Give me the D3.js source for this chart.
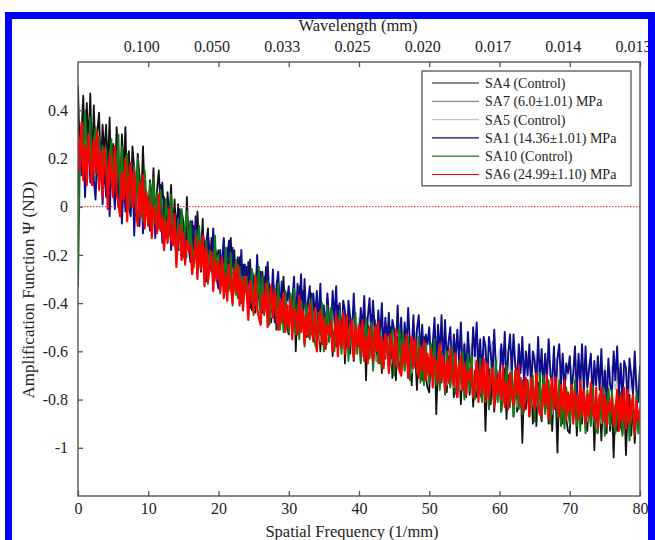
<!DOCTYPE html>
<html><head><meta charset="utf-8">
<script src="https://cdn.jsdelivr.net/npm/d3@7"></script>
<style>
body{margin:0;background:#fff}
svg{display:block}
text{font-family:"Liberation Serif","Times New Roman",serif;fill:#222}
</style>
</head><body>
<svg id="chart" width="655" height="540"></svg>
<script>
// ---- data ----
const freqFine = d3.range(0, 80.125, 0.25);   // 321 samples (1/mm)
const freqCoarse = d3.range(0, 80.25, 0.5);   // 161 samples (1/mm)
const xTicks = [0,10,20,30,40,50,60,70,80];
const xTickLabels = ["0","10","20","30","40","50","60","70","80"];
const topTicks = [10,20,30,40,50,60,70,80];
const topTickLabels = ["0.100","0.050","0.033","0.025","0.020","0.017","0.014","0.013"];
const yTicks = [0.4,0.2,0,-0.2,-0.4,-0.6,-0.8,-1];
const yTickLabels = ["0.4","0.2","0","-0.2","-0.4","-0.6","-0.8","-1"];
const seriesNames = ["SA4 (Control)","SA7 (6.0\u00b11.01) MPa","SA5 (Control)","SA1 (14.36\u00b11.01) MPa","SA10 (Control)","SA6 (24.99\u00b11.10) MPa"];
const seriesColors = ["#111111","#8a8a8a","#c4c4c4","#0c0c8c","#137a13","#ff0000"];

const sa4 = [
.50,.22,.31,.46,.19,.43,.25,.47, .17,.42,.20,.31,.39,.14,.34,.22,
.34,.15,.37,.10,.26,.09,.33,.18, .07,.30,.14,.33,.06,.23,.03,.25,
.16,-.03,.22,.13,.01,.25,.05,-.02, -.05,.11,.01,.16,-.06,.07,.15,-.01,
.10,-.03,-.09,.06,-.06,.09,-.11,.03, -.12,.01,-.18,-.02,-.06,-.15,.04,-.14,
-.06,-.23,-.08,-.19,-.02,-.17,-.20,-.05, -.30,-.15,-.09,-.26,-.13,-.29,-.17,-.21,
-.18,-.32,-.25,-.14,-.35,-.17,-.30,-.13, -.37,-.18,-.35,-.27,-.21,-.40,-.24,-.34,
-.25,-.39,-.22,-.43,-.31,-.44,-.26,-.37, -.44,-.27,-.39,-.25,-.45,-.32,-.48,-.31,
-.36,-.51,-.32,-.39,-.47,-.29,-.45,-.50, -.53,-.37,-.47,-.32,-.60,-.41,-.33,-.49,
-.35,-.48,-.54,-.39,-.51,-.36,-.56,-.42, -.54,-.41,-.60,-.44,-.48,-.57,-.38,-.56,
-.45,-.62,-.47,-.58,-.41,-.56,-.59,-.44, -.65,-.50,-.44,-.61,-.48,-.64,-.52,-.56,
-.50,-.64,-.57,-.46,-.72,-.49,-.62,-.45, -.66,-.47,-.64,-.56,-.50,-.69,-.53,-.63,
-.53,-.67,-.50,-.71,-.59,-.72,-.54,-.65, -.70,-.53,-.65,-.51,-.71,-.58,-.74,-.57,
-.61,-.76,-.57,-.64,-.72,-.54,-.70,-.75, -.77,-.61,-.71,-.56,-.86,-.65,-.57,-.73,
-.58,-.71,-.77,-.62,-.74,-.59,-.79,-.65, -.76,-.63,-.82,-.66,-.70,-.79,-.60,-.78,
-.66,-.83,-.68,-.79,-.62,-.77,-.80,-.65, -.93,-.71,-.65,-.82,-.69,-.85,-.73,-.77,
-.71,-.85,-.78,-.67,-.88,-.70,-.83,-.66, -.87,-.68,-.85,-.77,-.71,-.98,-.74,-.84,
-.72,-.86,-.69,-.90,-.78,-.91,-.73,-.84, -.89,-.72,-.84,-.70,-.90,-.77,-.93,-.76,
-.79,-1.02,-.75,-.82,-.90,-.72,-.88,-.93, -.94,-.78,-.88,-.73,-.95,-.82,-.74,-.90,
-.74,-.87,-.93,-.78,-.90,-.75,-1.01,-.81, -.91,-.78,-.97,-.81,-.85,-.94,-.75,-.93,
-.80,-1.04,-.82,-.93,-.76,-.91,-.94,-.79, -1.03,-.84,-.78,-.95,-.82,-.98,-.86,-.90,
-.87];

const sa7 = [
.30,.20,.28,.18,.25,.16,.23,.13,.20,.11,
.17,.08,.15,.05,.12,.03,.10,.00,.07,-.03,
.04,-.06,.01,-.09,-.02,-.12,-.05,-.15,-.08,-.18,
-.11,-.21,-.14,-.24,-.17,-.26,-.19,-.29,-.22,-.31,
-.24,-.33,-.26,-.35,-.28,-.37,-.30,-.39,-.32,-.41,
-.34,-.43,-.35,-.44,-.37,-.46,-.39,-.47,-.40,-.49,
-.41,-.50,-.43,-.52,-.44,-.53,-.46,-.55,-.47,-.56,
-.48,-.57,-.49,-.58,-.50,-.59,-.51,-.60,-.52,-.61,
-.53,-.62,-.54,-.63,-.55,-.64,-.56,-.65,-.57,-.66,
-.58,-.67,-.59,-.68,-.60,-.69,-.61,-.70,-.62,-.71,
-.63,-.72,-.64,-.73,-.65,-.74,-.66,-.75,-.67,-.76,
-.68,-.77,-.69,-.78,-.70,-.79,-.71,-.80,-.56,-.80,
-.72,-.81,-.73,-.82,-.74,-.83,-.74,-.83,-.75,-.84,
-.75,-.85,-.76,-.85,-.77,-.86,-.77,-.87,-.78,-.87,
-.78,-.88,-.79,-.88,-.79,-.89,-.80,-.89,-.80,-.90,
-.81,-.90,-.81,-.91,-.82,-.91,-.82,-.92,-.83,-.92,
-.83];

const sa5 = [
.24,.14,.22,.12,.20,.10,.18,.08,.16,.06,
.14,.04,.12,.02,.10,.00,.08,-.03,.05,-.05,
.03,-.07,.00,-.10,-.03,-.12,-.05,-.15,-.08,-.17,
-.10,-.20,-.13,-.22,-.15,-.24,-.17,-.26,-.19,-.28,
-.21,-.30,-.23,-.32,-.25,-.34,-.27,-.36,-.29,-.37,
-.30,-.39,-.32,-.40,-.33,-.42,-.35,-.43,-.36,-.44,
-.37,-.46,-.38,-.47,-.39,-.48,-.40,-.49,-.41,-.50,
-.42,-.51,-.43,-.52,-.44,-.53,-.45,-.54,-.46,-.55,
-.46,-.56,-.47,-.56,-.48,-.57,-.49,-.58,-.49,-.58,
-.50,-.59,-.51,-.60,-.51,-.60,-.52,-.61,-.53,-.62,
-.53,-.62,-.54,-.63,-.54,-.63,-.55,-.64,-.56,-.65,
-.56,-.65,-.57,-.66,-.57,-.66,-.58,-.67,-.58,-.67,
-.59,-.68,-.59,-.68,-.60,-.69,-.60,-.69,-.61,-.70,
-.61,-.70,-.62,-.71,-.62,-.71,-.63,-.72,-.63,-.72,
-.64,-.73,-.64,-.73,-.65,-.74,-.65,-.74,-.66,-.75,
-.66,-.75,-.66,-.76,-.67,-.76,-.67,-.77,-.68,-.77,
-.68];

const sa1 = [
.05,.26,.13,.32,.04,.21,.31,.10, .28,.11,.03,.24,.08,.27,.01,.19,
.04,.21,-.04,.16,.12,-.01,.24,.00, .16,-.07,.12,-.02,.20,.01,-.04,.17,
-.12,.07,.15,-.08,.10,-.11,.05,-.01, .04,-.10,-.03,.08,-.13,.05,-.08,.09,
-.15,.04,-.13,-.05,.01,-.18,-.02,-.12, -.04,-.18,-.01,-.22,-.10,-.23,-.05,-.16,
-.23,-.06,-.18,-.04,-.24,-.11,-.27,-.10, -.16,-.31,-.12,-.19,-.27,-.09,-.25,-.30,
-.34,-.18,-.28,-.13,-.35,-.22,-.14,-.30, -.17,-.30,-.36,-.21,-.33,-.18,-.38,-.24,
-.36,-.23,-.42,-.26,-.30,-.39,-.20,-.38, -.27,-.44,-.29,-.40,-.23,-.38,-.41,-.26,
-.48,-.33,-.27,-.44,-.31,-.47,-.35,-.39, -.33,-.47,-.40,-.29,-.50,-.32,-.45,-.28,
-.49,-.30,-.47,-.39,-.33,-.52,-.36,-.46, -.35,-.49,-.32,-.53,-.41,-.54,-.36,-.47,
-.52,-.35,-.47,-.33,-.53,-.40,-.56,-.39, -.43,-.58,-.39,-.46,-.54,-.36,-.52,-.57,
-.58,-.42,-.52,-.37,-.59,-.46,-.38,-.54, -.39,-.52,-.58,-.43,-.55,-.40,-.60,-.46,
-.57,-.44,-.63,-.47,-.51,-.60,-.41,-.59, -.46,-.63,-.48,-.59,-.42,-.57,-.60,-.45,
-.66,-.51,-.45,-.62,-.49,-.65,-.53,-.57, -.50,-.64,-.57,-.46,-.67,-.49,-.62,-.45,
-.66,-.47,-.64,-.56,-.50,-.69,-.53,-.63, -.51,-.65,-.48,-.69,-.57,-.70,-.52,-.63,
-.67,-.50,-.62,-.48,-.68,-.55,-.71,-.54, -.58,-.73,-.54,-.61,-.69,-.51,-.67,-.72,
-.73,-.57,-.67,-.52,-.74,-.61,-.53,-.69, -.53,-.66,-.72,-.57,-.69,-.54,-.74,-.60,
-.70,-.57,-.76,-.60,-.64,-.73,-.54,-.72, -.59,-.76,-.61,-.72,-.55,-.70,-.73,-.58,
-.78,-.63,-.57,-.74,-.61,-.77,-.65,-.69, -.62,-.76,-.69,-.58,-.79,-.61,-.74,-.57,
-.77,-.58,-.75,-.67,-.61,-.80,-.64,-.74, -.62,-.76,-.59,-.80,-.68,-.81,-.63,-.74,
-.77,-.60,-.72,-.58,-.78,-.65,-.81,-.64, -.67,-.82,-.63,-.70,-.78,-.60,-.76,-.81,
-.66];

const sa10 = [
-.33,.16,.33,.20,.40,.23,.19,.37, .09,.26,.33,.14,.29,.11,.25,.19,
.24,.07,.16,.28,.04,.25,.10,.30, .02,.25,.05,.15,.22,-.01,.18,.06,
.17,.00,.20,-.04,.10,-.06,.15,.03, -.06,.10,-.01,.12,-.07,.05,-.09,.07,
-.02,-.15,.03,-.04,-.12,.05,-.09,-.14, -.20,-.05,-.14,-.01,-.21,-.09,-.02,-.17,
-.07,-.19,-.25,-.10,-.21,-.08,-.26,-.14, -.26,-.14,-.32,-.18,-.21,-.30,-.12,-.29,
-.20,-.36,-.23,-.33,-.17,-.30,-.34,-.19, -.41,-.28,-.22,-.38,-.25,-.40,-.29,-.33,
-.29,-.43,-.36,-.26,-.45,-.28,-.41,-.25, -.47,-.29,-.45,-.37,-.31,-.49,-.35,-.43,
-.34,-.47,-.32,-.51,-.40,-.52,-.35,-.45, -.52,-.36,-.47,-.34,-.53,-.41,-.55,-.39,
-.45,-.58,-.40,-.47,-.55,-.38,-.52,-.57, -.59,-.44,-.53,-.40,-.60,-.48,-.41,-.56,
-.42,-.54,-.60,-.45,-.56,-.43,-.61,-.49, -.58,-.46,-.64,-.50,-.53,-.62,-.44,-.61,
-.49,-.65,-.52,-.62,-.46,-.59,-.63,-.48, -.68,-.55,-.49,-.65,-.52,-.67,-.56,-.60,
-.54,-.68,-.61,-.51,-.70,-.53,-.66,-.50, -.70,-.52,-.68,-.60,-.54,-.72,-.58,-.66,
-.56,-.69,-.54,-.73,-.62,-.74,-.57,-.67, -.73,-.57,-.68,-.55,-.74,-.62,-.76,-.60,
-.65,-.78,-.60,-.67,-.75,-.58,-.72,-.77, -.79,-.64,-.73,-.60,-.80,-.68,-.61,-.76,
-.62,-.74,-.80,-.65,-.76,-.63,-.81,-.69, -.78,-.66,-.84,-.70,-.73,-.82,-.64,-.81,
-.69,-.85,-.72,-.82,-.66,-.79,-.83,-.68, -.87,-.74,-.68,-.84,-.71,-.86,-.75,-.79,
-.73,-.87,-.80,-.70,-.89,-.72,-.85,-.69, -.88,-.70,-.86,-.78,-.72,-.90,-.76,-.84,
-.74,-.87,-.72,-.91,-.80,-.92,-.75,-.85, -.90,-.74,-.85,-.72,-.91,-.79,-.93,-.77,
-.81,-.94,-.76,-.83,-.91,-.74,-.88,-.93, -.94,-.79,-.88,-.75,-.95,-.83,-.76,-.91,
-.76,-.88,-.94,-.79,-.90,-.77,-.95,-.83, -.91,-.79,-.97,-.83,-.86,-.95,-.77,-.94,
-.86];

const sa6 = [
.32,.15,.35,.11,.25,.09,.30,.18, .09,.28,.14,.31,.07,.23,.04,.24,
.16,-.01,.22,.13,.04,.25,.06,.01, -.04,.14,.03,.20,-.06,.10,.18,.00,
.15,-.01,-.08,.10,-.04,.13,-.09,.06, -.08,.03,-.13,.00,-.03,-.11,.05,-.10,
-.04,-.18,-.06,-.15,-.01,-.13,-.16,-.03, -.25,-.13,-.08,-.22,-.11,-.24,-.14,-.18,
-.16,-.28,-.22,-.13,-.30,-.15,-.26,-.12, -.33,-.17,-.31,-.24,-.19,-.35,-.22,-.30,
-.23,-.35,-.21,-.38,-.28,-.39,-.24,-.33, -.40,-.26,-.36,-.24,-.41,-.30,-.43,-.29,
-.35,-.47,-.31,-.37,-.44,-.29,-.42,-.46, -.49,-.36,-.44,-.32,-.50,-.39,-.33,-.46,
-.35,-.46,-.51,-.38,-.48,-.36,-.52,-.41, -.50,-.39,-.55,-.42,-.45,-.53,-.37,-.52,
-.43,-.57,-.45,-.54,-.40,-.52,-.55,-.42, -.60,-.48,-.43,-.57,-.46,-.59,-.49,-.53,
-.48,-.60,-.54,-.45,-.62,-.47,-.58,-.44, -.61,-.45,-.59,-.52,-.47,-.63,-.50,-.58,
-.49,-.61,-.47,-.64,-.54,-.65,-.50,-.59, -.64,-.50,-.60,-.48,-.65,-.54,-.67,-.53,
-.57,-.69,-.53,-.59,-.66,-.51,-.64,-.68, -.70,-.57,-.65,-.53,-.71,-.60,-.54,-.67,
-.55,-.66,-.71,-.58,-.68,-.56,-.72,-.61, -.70,-.59,-.75,-.62,-.65,-.73,-.57,-.72,
-.62,-.76,-.64,-.73,-.59,-.71,-.74,-.61, -.79,-.67,-.62,-.76,-.65,-.78,-.68,-.72,
-.67,-.79,-.73,-.64,-.81,-.66,-.77,-.63, -.81,-.65,-.79,-.72,-.67,-.83,-.70,-.78,
-.68,-.80,-.66,-.83,-.73,-.84,-.69,-.78, -.82,-.68,-.78,-.66,-.83,-.72,-.85,-.71,
-.75,-.87,-.71,-.77,-.84,-.69,-.82,-.86, -.87,-.74,-.82,-.70,-.88,-.77,-.71,-.84,
-.71,-.82,-.87,-.74,-.84,-.72,-.88,-.77, -.85,-.74,-.90,-.77,-.80,-.88,-.72,-.87,
-.76,-.90,-.78,-.87,-.73,-.85,-.88,-.75, -.92,-.80,-.75,-.89,-.78,-.91,-.81,-.85,
-.79,-.91,-.85,-.76,-.93,-.78,-.89,-.75, -.92,-.76,-.90,-.83,-.78,-.94,-.81,-.89,
-.84];

const seriesValues = [sa4, sa7, sa5, sa1, sa10, sa6];
const seriesFreq = [freqFine, freqCoarse, freqCoarse, freqFine, freqFine, freqFine];
const seriesWidths = [1.8, 1.6, 1.6, 1.9, 1.9, 2.2];

// ---- layout ----
const svg = d3.select("#chart");
const W = 655, H = 540;
const L = 78, R = 640, T = 62, B = 496;
svg.append("rect").attr("width", W).attr("height", H).attr("fill", "#fff");

const x = d3.scaleLinear().domain([0, 80]).range([L, R]);
const y = d3.scaleLinear().domain([-1.2, 0.6]).range([B, T]);

svg.append("clipPath").attr("id", "plotclip")
  .append("rect").attr("x", L).attr("y", T).attr("width", R - L).attr("height", B - T);

const plot = svg.append("g").attr("clip-path", "url(#plotclip)");

seriesValues.forEach((vals, k) => {
  const fx = seriesFreq[k];
  const line = d3.line().x((d, i) => x(fx[i])).y(d => y(d));
  plot.append("path").datum(vals)
    .attr("d", line)
    .attr("fill", "none")
    .attr("stroke", seriesColors[k])
    .attr("stroke-width", seriesWidths[k])
    .attr("stroke-linejoin", "round");
});

// zero reference line
plot.append("path").datum([0, 80])
  .attr("d", d3.line().x(d => x(d)).y(() => y(0)))
  .attr("stroke", "#e02020").attr("stroke-width", 1)
  .attr("stroke-dasharray", "1.5,1.5").attr("fill", "none");

// axes
const axisColor = "#555";
function styleAxis(g) {
  g.select(".domain").remove();
  g.selectAll(".tick line").attr("stroke", axisColor).attr("stroke-width", 1.3);
  g.selectAll(".tick text").attr("fill", "#222").style("font-size", "16px")
    .style("font-family", '"Liberation Serif","Times New Roman",serif');
}

svg.append("g").attr("transform", `translate(0,${B})`)
  .call(d3.axisBottom(x).tickValues(xTicks).tickFormat((d, i) => xTickLabels[i])
    .tickSizeInner(-5).tickSizeOuter(0).tickPadding(7))
  .call(styleAxis);

svg.append("g").attr("transform", `translate(0,${T})`)
  .call(d3.axisTop(x).tickValues(topTicks).tickFormat((d, i) => topTickLabels[i])
    .tickSizeInner(-5).tickSizeOuter(0).tickPadding(10))
  .call(styleAxis)
  .call(g => g.selectAll(".tick text").attr("dx", -7));

svg.append("g").attr("transform", `translate(${L},0)`)
  .call(d3.axisLeft(y).tickValues(yTicks).tickFormat((d, i) => yTickLabels[i])
    .tickSizeInner(-5).tickSizeOuter(0).tickPadding(10))
  .call(styleAxis);

// frame
svg.append("rect").attr("x", L).attr("y", T).attr("width", R - L).attr("height", B - T)
  .attr("fill", "none").attr("stroke", axisColor).attr("stroke-width", 1.4);

// titles
svg.append("text").attr("x", 358).attr("y", 31).attr("text-anchor", "middle")
  .style("font-size", "16.5px").text("Wavelength (mm)");
svg.append("text").attr("x", 352).attr("y", 537).attr("text-anchor", "middle")
  .style("font-size", "16.5px").text("Spatial Frequency (1/mm)");
svg.append("text").attr("transform", "translate(34,290) rotate(-90)").attr("text-anchor", "middle")
  .style("font-size", "17px").text("Amplification Function \u03a8 (ND)");

// legend
const lg = svg.append("g");
const lgX = 422, lgY = 71, lgW = 209, rowH = 18.3;
lg.append("rect").attr("x", lgX).attr("y", lgY).attr("width", lgW)
  .attr("height", rowH * seriesNames.length + 5)
  .attr("fill", "#fff").attr("stroke", axisColor).attr("stroke-width", 1.3);
seriesNames.forEach((name, i) => {
  const cy = lgY + 12 + i * rowH;
  lg.append("line").attr("x1", lgX + 10).attr("x2", lgX + 57).attr("y1", cy).attr("y2", cy)
    .attr("stroke", seriesColors[i]).attr("stroke-width", 1.2);
  lg.append("text").attr("x", lgX + 63).attr("y", cy).attr("dy", "0.35em")
    .style("font-size", "14px").text(name);
});

// outer blue border
svg.append("rect").attr("x", 8.5).attr("y", 15.5).attr("width", 643).attr("height", 600)
  .attr("fill", "none").attr("stroke", "#0000ff").attr("stroke-width", 7);
</script>
</body></html>
